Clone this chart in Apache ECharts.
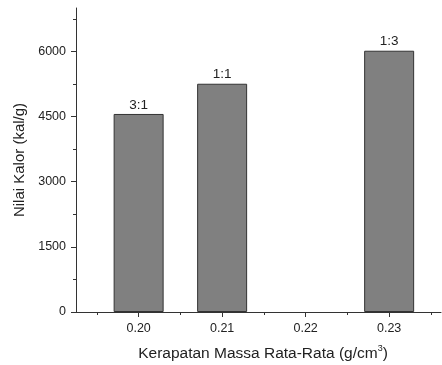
<!DOCTYPE html>
<html><head><meta charset="utf-8">
<script src="https://cdn.jsdelivr.net/npm/echarts@6/dist/echarts.min.js"></script>
<style>html,body{margin:0;padding:0;background:#fff}#c{width:442px;height:365px}</style>
</head><body><div id="c"></div>
<script>
const densities = [0.20, 0.21, 0.23];
const calorValues = [4560, 5256, 6016];
const ratioLabels = ['3:1', '1:1', '1:3'];
const xMajorTicks = [0.20, 0.21, 0.22, 0.23];
const xMinorTicks = [0.195, 0.205, 0.215, 0.225, 0.235];
const yMajorTicks = [0, 1500, 3000, 4500, 6000];
const yMinorTicks = [750, 2250, 3750, 5250, 6750];

const FONT = 'Liberation Sans, Arial, sans-serif';
const AX = '#333';
const xMin = 0.1925, xMax = 0.23621, yMin = 0, yMax = 7000;

const chart = echarts.init(document.getElementById('c'), null, {renderer: 'canvas'});
chart.setOption({
  animation: false,
  backgroundColor: '#fff',
  grid: {left: 76, right: 1, top: 8, bottom: 53, containLabel: false, outerBoundsMode: 'none'},
  xAxis: [{
    type: 'value', min: xMin, max: xMax, position: 'bottom',
    axisLine: {show: true, onZero: false, lineStyle: {color: AX, width: 1}},
    axisTick: {show: true, length: 5, customValues: xMajorTicks, lineStyle: {color: AX}},
    axisLabel: {show: true, customValues: xMajorTicks, margin: 10, color: '#222', fontSize: 12.5, fontFamily: FONT,
      formatter: v => v.toFixed(2)},
    splitLine: {show: false},
    name: '{t|Kerapatan Massa Rata-Rata (g/cm}{s|3}{t|)}',
    nameLocation: 'middle', nameGap: 32,
    nameTextStyle: {padding: [0, 0, 0, 9], rich: {
      t: {fontSize: 15.5, fontFamily: FONT, color: '#222', lineHeight: 18, verticalAlign: 'bottom'},
      s: {fontSize: 9, fontFamily: FONT, color: '#222', lineHeight: 9, verticalAlign: 'top'}
    }}
  }, {
    type: 'value', min: xMin, max: xMax, position: 'bottom',
    axisLine: {show: false},
    axisTick: {show: true, length: 3, customValues: xMinorTicks, lineStyle: {color: AX}},
    axisLabel: {show: false},
    splitLine: {show: false}
  }],
  yAxis: [{
    type: 'value', min: yMin, max: yMax, position: 'left',
    axisLine: {show: true, onZero: false, lineStyle: {color: AX, width: 1}},
    axisTick: {show: true, length: 5, customValues: yMajorTicks, lineStyle: {color: AX}},
    axisLabel: {show: true, customValues: yMajorTicks, margin: 10, color: '#222', fontSize: 12.5, fontFamily: FONT,
      formatter: v => String(v)},
    splitLine: {show: false},
    name: 'Nilai Kalor (kal/g)', nameLocation: 'middle', nameGap: 47,
    nameTextStyle: {fontSize: 15, fontFamily: FONT, color: '#222'}
  }, {
    type: 'value', min: yMin, max: yMax, position: 'left',
    axisLine: {show: false},
    axisTick: {show: true, length: 3, customValues: yMinorTicks, lineStyle: {color: AX}},
    axisLabel: {show: false},
    splitLine: {show: false}
  }],
  series: [{
    type: 'bar', xAxisIndex: 0, yAxisIndex: 0, barWidth: 50,
    data: densities.map((d, i) => ({value: [d, calorValues[i]], label: {formatter: ratioLabels[i]}})),
    itemStyle: {color: '#808080', borderColor: '#333', borderWidth: 1},
    label: {show: true, position: 'top', distance: 2, color: '#222', fontSize: 13.5, fontFamily: FONT}
  }]
});
</script></body></html>
